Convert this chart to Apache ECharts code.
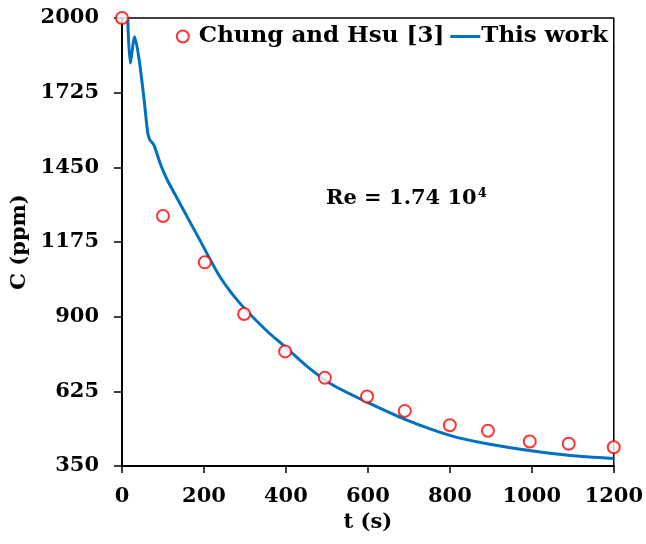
<!DOCTYPE html>
<html>
<head>
<meta charset="utf-8">
<script src="https://cdn.jsdelivr.net/npm/echarts@6/dist/echarts.min.js"></script>
<style>
html,body{margin:0;padding:0;background:#fff;}
#chart{width:646px;height:544px;}
</style>
</head>
<body>
<div id="chart"></div>
<script>
// Reference data: Chung and Hsu [3]
var refTime = [0, 100, 202, 298, 398, 495, 598, 690, 800, 893, 995, 1090, 1200];
var refConc = [2000, 1271, 1100, 910, 772, 675, 606, 553, 500, 480, 440, 432, 419];
// This work (simulation)
var simTime = [14, 20, 31, 42, 54, 63, 68, 78, 93, 109, 141, 190, 239, 288, 353, 398, 450, 510, 598, 692, 802, 894, 999, 1095, 1200];
var simConc = [2000, 1834, 1931, 1845, 1698, 1575, 1551, 1532, 1465, 1408, 1318, 1182, 1047, 949, 848, 789, 719, 652, 585, 521, 462, 431, 406, 389, 378];
var xTicks = [0, 200, 400, 600, 800, 1000, 1200];
var yTicks = [350, 625, 900, 1175, 1450, 1725, 2000];
var seriesNames = ['Chung and Hsu [3]', 'This work'];

var FONT = 'DejaVu Serif';
var chart = echarts.init(document.getElementById('chart'), null, {renderer: 'canvas'});
function zip(a, b) { return a.map(function (v, i) { return [v, b[i]]; }); }
function plain(v) { return String(v); }

chart.setOption({
  animation: false,
  backgroundColor: '#fff',
  grid: {left: 122, right: 32, top: 18, bottom: 78, show: true, borderColor: '#000', borderWidth: 1.5, backgroundColor: 'transparent'},
  legend: {
    right: 38, top: 25, padding: 0, itemGap: 6, itemWidth: 30, itemHeight: 12, symbolKeepAspect: true,
    textStyle: {fontFamily: FONT, fontWeight: 'bold', fontSize: 23, color: '#000', padding: [0, 0, 0, -4]},
    data: [{name: seriesNames[0], icon: 'circle', itemStyle: {color: '#fff', borderColor: '#ff0000', borderWidth: 2}},
           {name: seriesNames[1], icon: 'path://M0,0H30V3H0Z', itemStyle: {color: '#0070c0'}}]
  },
  xAxis: {
    type: 'value', min: xTicks[0], max: xTicks[xTicks.length - 1], interval: 200,
    name: 't (s)', nameLocation: 'middle', nameGap: 45,
    nameTextStyle: {fontFamily: FONT, fontWeight: 'bold', fontSize: 21, color: '#000'},
    axisLine: {lineStyle: {color: '#000', width: 2}},
    axisTick: {show: true, inside: false, length: 7, lineStyle: {color: '#000', width: 1.5}},
    axisLabel: {margin: 20, fontFamily: FONT, fontWeight: 'bold', fontSize: 21, color: '#000', formatter: plain},
    splitLine: {show: false}
  },
  yAxis: {
    type: 'value', min: yTicks[0], max: yTicks[yTicks.length - 1], interval: 275,
    name: 'C (ppm)', nameLocation: 'middle', nameGap: 86,
    nameTextStyle: {fontFamily: FONT, fontWeight: 'bold', fontSize: 21, color: '#000'},
    axisLine: {lineStyle: {color: '#000', width: 2}},
    axisTick: {show: true, inside: false, length: 8, lineStyle: {color: '#000', width: 1.5}},
    axisLabel: {margin: 23, fontFamily: FONT, fontWeight: 'bold', fontSize: 21, color: '#000', formatter: plain},
    splitLine: {show: false}
  },
  graphic: [{
    type: 'text', left: 326, top: 187,
    style: {
      text: '{a|Re = 1.74 10}{s|4}',
      rich: {
        a: {fontFamily: FONT, fontWeight: 'bold', fontSize: 21, fill: '#000', verticalAlign: 'bottom'},
        s: {fontFamily: FONT, fontWeight: 'bold', fontSize: 13, fill: '#000', verticalAlign: 'top', padding: [0, 0, 9, 1]}
      }
    }
  }],
  series: [
    {
      name: seriesNames[1], type: 'line', data: zip(simTime, simConc), symbol: 'none',
      smooth: 0.25, lineStyle: {color: '#0070c0', width: 3}, itemStyle: {color: '#0070c0'}, z: 2
    },
    {
      name: seriesNames[0], type: 'scatter', data: zip(refTime, refConc), symbol: 'emptyCircle', symbolSize: 12,
      itemStyle: {color: '#ff0000', borderColor: '#ff0000', borderWidth: 2}, z: 3
    }
  ]
});
</script>
</body>
</html>
